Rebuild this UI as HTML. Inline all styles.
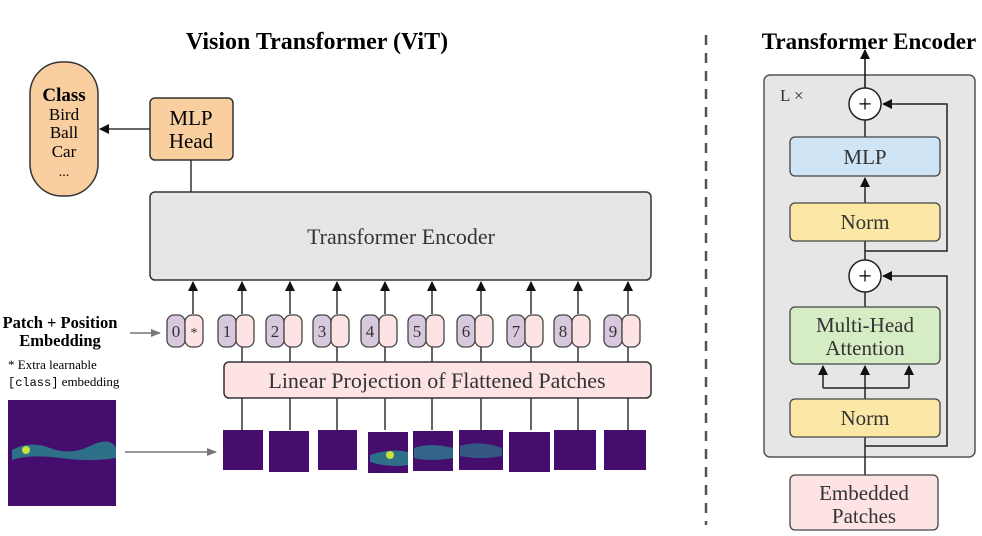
<!DOCTYPE html>
<html><head><meta charset="utf-8"><style>body{margin:0;background:#fff}svg{display:block}</style></head>
<body>
<svg width="982" height="536" viewBox="0 0 982 536" xmlns="http://www.w3.org/2000/svg" font-family="Liberation Serif, serif">
<defs>
<marker id="ah" markerWidth="10" markerHeight="10" refX="9" refY="5" orient="auto" markerUnits="userSpaceOnUse"><path d="M0,0 L10,5 L0,10 z" fill="#111"/></marker>
<marker id="ag" markerWidth="10" markerHeight="10" refX="9" refY="5" orient="auto" markerUnits="userSpaceOnUse"><path d="M0,1 L10,5 L0,9 z" fill="#777"/></marker>
</defs>
<text x="317" y="49" text-anchor="middle" font-size="24" font-weight="bold">Vision Transformer (ViT)</text>
<rect x="30" y="62" width="68" height="134" rx="32" fill="#f9cfa0" stroke="#333" stroke-width="1.5"/>
<text x="64" y="101" text-anchor="middle" font-size="19" font-weight="bold">Class</text>
<text x="64" y="120" text-anchor="middle" font-size="17">Bird</text>
<text x="64" y="138" text-anchor="middle" font-size="17">Ball</text>
<text x="64" y="157" text-anchor="middle" font-size="17">Car</text>
<text x="64" y="176" text-anchor="middle" font-size="14">...</text>
<rect x="150" y="98" width="83" height="62" rx="5" fill="#f9cfa0" stroke="#333" stroke-width="1.5"/>
<text x="191" y="125" text-anchor="middle" font-size="21">MLP</text>
<text x="191" y="148" text-anchor="middle" font-size="21">Head</text>
<line x1="150" y1="129" x2="100" y2="129" stroke="#333" stroke-width="1.5" marker-end="url(#ah)"/>
<line x1="191" y1="160" x2="191" y2="192" stroke="#333" stroke-width="1.5"/>
<rect x="150" y="192" width="501" height="88" rx="5" fill="#e6e6e6" stroke="#333" stroke-width="1.5"/>
<text x="401" y="244" text-anchor="middle" font-size="22" fill="#333">Transformer Encoder</text>
<text x="60" y="328" text-anchor="middle" font-size="16.5" font-weight="bold">Patch + Position</text>
<text x="60" y="346" text-anchor="middle" font-size="16.5" font-weight="bold">Embedding</text>
<line x1="130" y1="333" x2="160" y2="333" stroke="#777" stroke-width="1.5" marker-end="url(#ag)"/>
<text x="8" y="369" font-size="13">* Extra learnable</text>
<text x="8" y="386" font-size="13"><tspan font-family="Liberation Mono, monospace" font-size="12">[class]</tspan> embedding</text>
<g stroke="#333" stroke-width="1.5">
<line x1="193" y1="314" x2="193" y2="282" marker-end="url(#ah)"/>
<line x1="242" y1="314" x2="242" y2="282" marker-end="url(#ah)"/>
<line x1="290" y1="314" x2="290" y2="282" marker-end="url(#ah)"/>
<line x1="337" y1="314" x2="337" y2="282" marker-end="url(#ah)"/>
<line x1="385" y1="314" x2="385" y2="282" marker-end="url(#ah)"/>
<line x1="432" y1="314" x2="432" y2="282" marker-end="url(#ah)"/>
<line x1="481" y1="314" x2="481" y2="282" marker-end="url(#ah)"/>
<line x1="531" y1="314" x2="531" y2="282" marker-end="url(#ah)"/>
<line x1="578" y1="314" x2="578" y2="282" marker-end="url(#ah)"/>
<line x1="628" y1="314" x2="628" y2="282" marker-end="url(#ah)"/>
</g>
<g stroke="#333" stroke-width="1.5">
<line x1="242" y1="346" x2="242" y2="430"/><line x1="290" y1="346" x2="290" y2="430"/>
<line x1="337" y1="346" x2="337" y2="430"/><line x1="385" y1="346" x2="385" y2="430"/>
<line x1="432" y1="346" x2="432" y2="430"/><line x1="481" y1="346" x2="481" y2="430"/>
<line x1="531" y1="346" x2="531" y2="430"/><line x1="578" y1="346" x2="578" y2="430"/>
<line x1="628" y1="346" x2="628" y2="430"/>
</g>
<rect x="224" y="362" width="427" height="36" rx="5" fill="#fde3e3" stroke="#333" stroke-width="1.5"/>
<text x="437" y="388" text-anchor="middle" font-size="22" fill="#333">Linear Projection of Flattened Patches</text>
<g stroke="#444" stroke-width="1.3">
<rect x="167" y="315" width="18" height="32" rx="7" fill="#d8c8dd"/><rect x="185" y="315" width="18" height="32" rx="7" fill="#fde3e3"/>
</g>
<text x="176" y="337" text-anchor="middle" font-size="17" fill="#333">0</text><text x="194" y="337" text-anchor="middle" font-size="14" fill="#333">*</text>
<g stroke="#444" stroke-width="1.3">
<rect x="218" y="315" width="18" height="32" rx="7" fill="#d8c8dd"/><rect x="236" y="315" width="18" height="32" rx="7" fill="#fde3e3"/>
<rect x="266" y="315" width="18" height="32" rx="7" fill="#d8c8dd"/><rect x="284" y="315" width="18" height="32" rx="7" fill="#fde3e3"/>
<rect x="313" y="315" width="18" height="32" rx="7" fill="#d8c8dd"/><rect x="331" y="315" width="18" height="32" rx="7" fill="#fde3e3"/>
<rect x="361" y="315" width="18" height="32" rx="7" fill="#d8c8dd"/><rect x="379" y="315" width="18" height="32" rx="7" fill="#fde3e3"/>
<rect x="408" y="315" width="18" height="32" rx="7" fill="#d8c8dd"/><rect x="426" y="315" width="18" height="32" rx="7" fill="#fde3e3"/>
<rect x="457" y="315" width="18" height="32" rx="7" fill="#d8c8dd"/><rect x="475" y="315" width="18" height="32" rx="7" fill="#fde3e3"/>
<rect x="507" y="315" width="18" height="32" rx="7" fill="#d8c8dd"/><rect x="525" y="315" width="18" height="32" rx="7" fill="#fde3e3"/>
<rect x="554" y="315" width="18" height="32" rx="7" fill="#d8c8dd"/><rect x="572" y="315" width="18" height="32" rx="7" fill="#fde3e3"/>
<rect x="604" y="315" width="18" height="32" rx="7" fill="#d8c8dd"/><rect x="622" y="315" width="18" height="32" rx="7" fill="#fde3e3"/>
</g>
<g font-size="17" fill="#333" text-anchor="middle">
<text x="227" y="337">1</text><text x="275" y="337">2</text><text x="322" y="337">3</text><text x="370" y="337">4</text><text x="417" y="337">5</text><text x="466" y="337">6</text><text x="516" y="337">7</text><text x="563" y="337">8</text><text x="613" y="337">9</text>
</g>
<rect x="8" y="400" width="108" height="106" fill="#440d6e"/>
<path d="M12,450 Q30,440 50,448 T90,446 T116,448 L116,458 Q90,462 60,458 T12,460 z" fill="#2a8a90" opacity="0.8"/>
<circle cx="26" cy="450" r="4" fill="#c8e040"/>
<line x1="125" y1="452" x2="216" y2="452" stroke="#777" stroke-width="1.5" marker-end="url(#ag)"/>
<g fill="#440d6e">
<rect x="223" y="430" width="40" height="40"/><rect x="269" y="431" width="40" height="41"/><rect x="318" y="430" width="39" height="40"/>
<rect x="368" y="432" width="40" height="41"/><rect x="413" y="431" width="40" height="40"/><rect x="459" y="430" width="44" height="40"/>
<rect x="509" y="432" width="41" height="40"/><rect x="554" y="430" width="42" height="40"/><rect x="604" y="430" width="42" height="40"/>
</g>
<path d="M370,455 Q390,448 408,452 L408,465 Q390,468 370,462z" fill="#2a8a90" opacity="0.8"/><circle cx="390" cy="455" r="4" fill="#c8e040"/>
<path d="M414,448 Q430,442 453,448 L453,458 Q430,462 414,458z" fill="#2a8a90" opacity="0.7"/>
<path d="M460,446 Q480,440 502,448 L502,456 Q480,460 460,456z" fill="#2a8a90" opacity="0.6"/>
<line x1="706" y1="35" x2="706" y2="525" stroke="#555" stroke-width="2.5" stroke-dasharray="10,8"/>
<text x="869" y="49" text-anchor="middle" font-size="23" font-weight="bold">Transformer Encoder</text>
<rect x="764" y="75" width="211" height="382" rx="6" fill="#e6e6e6" stroke="#555" stroke-width="1.5"/>
<text x="780" y="101" font-size="17" fill="#333">L ×</text>
<line x1="865" y1="88" x2="865" y2="50" stroke="#111" stroke-width="1.5" marker-end="url(#ah)"/>
<g stroke="#222" stroke-width="1.5" fill="none">
<line x1="865" y1="120" x2="865" y2="137"/>
<line x1="865" y1="203" x2="865" y2="178" marker-end="url(#ah)"/>
<line x1="865" y1="241" x2="865" y2="260"/>
<path d="M865,251 H947 V104 H883" marker-end="url(#ah)"/>
<line x1="865" y1="292" x2="865" y2="307"/>
<line x1="865" y1="475" x2="865" y2="437"/>
<path d="M865,446 H947 V276 H883" marker-end="url(#ah)"/>
<line x1="865" y1="399" x2="865" y2="366" marker-end="url(#ah)"/>
<path d="M823,388 H909"/>
<line x1="823" y1="388" x2="823" y2="366" marker-end="url(#ah)"/>
<line x1="909" y1="388" x2="909" y2="366" marker-end="url(#ah)"/>
</g>
<circle cx="865" cy="104" r="16" fill="#fff" stroke="#222" stroke-width="1.5"/>
<text x="865" y="112" text-anchor="middle" font-size="24">+</text>
<circle cx="865" cy="276" r="16" fill="#fff" stroke="#222" stroke-width="1.5"/>
<text x="865" y="284" text-anchor="middle" font-size="24">+</text>
<rect x="790" y="137" width="150" height="39" rx="5" fill="#cfe5f5" stroke="#444" stroke-width="1.3"/>
<text x="865" y="164" text-anchor="middle" font-size="21" fill="#333">MLP</text>
<rect x="790" y="203" width="150" height="38" rx="5" fill="#fbe8a6" stroke="#444" stroke-width="1.3"/>
<text x="865" y="229" text-anchor="middle" font-size="21" fill="#333">Norm</text>
<rect x="790" y="307" width="150" height="57" rx="5" fill="#d6ecc4" stroke="#444" stroke-width="1.3"/>
<text x="865" y="332" text-anchor="middle" font-size="21" fill="#333">Multi-Head</text>
<text x="865" y="355" text-anchor="middle" font-size="21" fill="#333">Attention</text>
<rect x="790" y="399" width="150" height="38" rx="5" fill="#fbe8a6" stroke="#444" stroke-width="1.3"/>
<text x="865" y="425" text-anchor="middle" font-size="21" fill="#333">Norm</text>
<rect x="790" y="475" width="148" height="55" rx="5" fill="#fde3e3" stroke="#444" stroke-width="1.3"/>
<text x="864" y="500" text-anchor="middle" font-size="21" fill="#333">Embedded</text>
<text x="864" y="523" text-anchor="middle" font-size="21" fill="#333">Patches</text>
</svg>
</body></html>
